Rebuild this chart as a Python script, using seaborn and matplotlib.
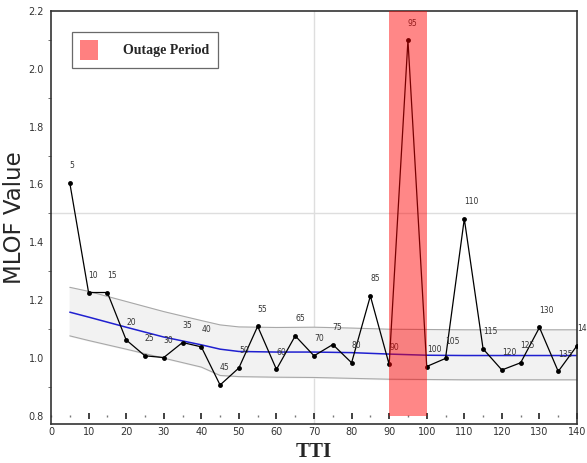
import numpy as np
import pandas as pd
import matplotlib
matplotlib.use("Agg")
import matplotlib.pyplot as plt
from matplotlib.patches import Patch
from matplotlib.ticker import MultipleLocator
import seaborn as sns

# --- data ---
tti = [5, 10, 15, 20, 25, 30, 35, 40, 45, 50, 55, 60, 65, 70,
       75, 80, 85, 90, 95, 100, 105, 110, 115, 120, 125, 130, 135, 140]
mlof = [1.605, 1.226, 1.226, 1.062, 1.007, 1.001, 1.053, 1.038, 0.906, 0.965,
        1.109, 0.960, 1.076, 1.007, 1.046, 0.983, 1.214, 0.977, 2.099, 0.970,
        0.998, 1.481, 1.031, 0.958, 0.983, 1.105, 0.953, 1.042]

trend_x = [5, 10, 20, 30, 40, 45, 50, 60, 70, 80, 90, 100, 110, 120, 130, 140]
trend_y = [1.158, 1.141, 1.106, 1.072, 1.045, 1.030, 1.022, 1.020, 1.020,
           1.018, 1.013, 1.009, 1.008, 1.008, 1.008, 1.008]
band_hi = [1.244, 1.230, 1.195, 1.160, 1.129, 1.114, 1.107, 1.105, 1.106,
           1.103, 1.099, 1.098, 1.097, 1.097, 1.097, 1.097]
band_lo = [1.076, 1.060, 1.030, 0.999, 0.968, 0.939, 0.935, 0.933, 0.932,
           0.929, 0.926, 0.925, 0.924, 0.924, 0.924, 0.924]

outage = [90, 100]
ref_x = 70
ref_y = 1.5

df = pd.DataFrame({"TTI": tti, "MLOF": mlof})
trend = pd.DataFrame({"TTI": trend_x, "MLOF": trend_y})

sns.set_theme(style="white")
plt.rcParams['font.family'] = ['DejaVu Sans']

fig = plt.figure(figsize=(5.87, 4.63), dpi=100)
ax = fig.add_axes([0.0869, 0.0842, 0.8961, 0.8920])

ax.axvline(ref_x, color="#dedede", lw=1, zorder=0)
ax.axhline(ref_y, color="#dedede", lw=1, zorder=0)

# confidence band + trend
ax.fill_between(trend_x, band_lo, band_hi, color="#f2f2f2", zorder=1)
ax.plot(trend_x, band_hi, color="#a8a8a8", lw=0.8, zorder=1)
ax.plot(trend_x, band_lo, color="#a8a8a8", lw=0.8, zorder=1)
sns.lineplot(data=trend, x="TTI", y="MLOF", ax=ax, color="#2020d0", lw=1.1, zorder=2)

# MLOF series
sns.lineplot(data=df, x="TTI", y="MLOF", ax=ax, color="black", lw=0.9,
             marker="o", markersize=3.5, markeredgewidth=0, zorder=3)
for x, y in zip(tti, mlof):
    ax.annotate(str(x), (x, y), xytext=(0, 9), textcoords="offset points",
                ha="left", va="bottom", fontsize=5.5, color="#333333",
                annotation_clip=False, zorder=3)

# outage period, drawn on top
ax.fill_betweenx([0.8, 2.2], outage[0], outage[1], color="red", alpha=0.47,
                 lw=0, zorder=4)

ax.set_xlim(0, 140)
ax.set_ylim(0.771, 2.2)
ax.set_yticks(np.arange(0.8, 2.21, 0.2))
ax.yaxis.set_minor_locator(MultipleLocator(0.1))
ax.set_xticks(np.arange(0, 141, 10))
ax.tick_params(axis="y", which="major", direction="out", length=3, width=0.8,
               labelsize=7, color="#333333", labelcolor="#333333", pad=2)
ax.tick_params(axis="y", which="minor", direction="out", length=2, width=0.6,
               color="#555555", left=True)
ax.tick_params(axis="x", which="both", length=0, labelsize=7,
               labelcolor="#333333", pad=2)

# detached x tick marks sitting at the 0.8 level
sec = ax.secondary_xaxis(location=(0.8 - 0.771) / (2.2 - 0.771))
sec.set_xticks(np.arange(10, 141, 10))
sec.xaxis.set_minor_locator(MultipleLocator(5))
sec.tick_params(axis="x", which="major", direction="inout", length=5, width=1.3,
                color="#333333", labelbottom=False, labeltop=False)
sec.tick_params(axis="x", which="minor", direction="inout", length=1.5, width=1,
                color="#777777")
for s in sec.spines.values():
    s.set_visible(False)

for s in ax.spines.values():
    s.set_visible(True)
    s.set_color("#333333")
    s.set_linewidth(1.2)

ax.set_xlabel("TTI", fontsize=15, fontweight="bold",
              family=["Liberation Serif"], labelpad=4)
ax.set_ylabel("MLOF Value", fontsize=16.5, labelpad=1.5)

leg = ax.legend(handles=[Patch(facecolor="#ff8080", edgecolor="none", label="Outage Period")],
                loc="upper left", bbox_to_anchor=(0.04, 0.95), frameon=True,
                fancybox=False, handlelength=1.3, handleheight=1.8,
                borderpad=0.6, handletextpad=1.8, borderaxespad=0,
                prop={"family": "Liberation Serif", "weight": "bold", "size": 10})
leg.get_frame().set_edgecolor("#444444")
leg.get_frame().set_linewidth(0.9)

fig.savefig("out.png", dpi=100)
